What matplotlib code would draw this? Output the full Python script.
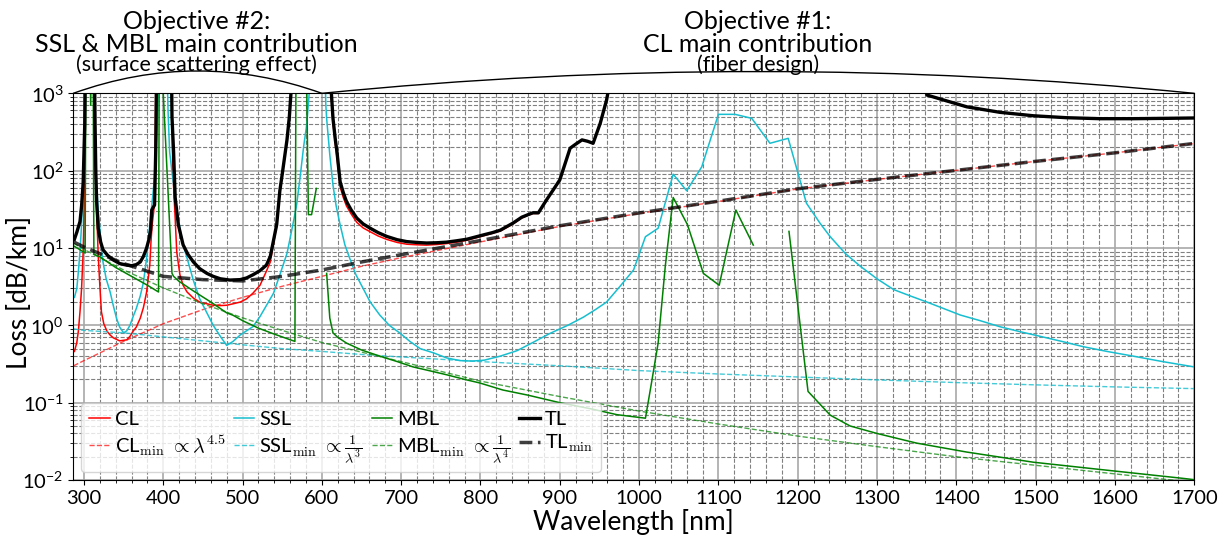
import numpy as np
import matplotlib.pyplot as plt
from matplotlib.ticker import MultipleLocator, LogLocator

plt.rcParams["font.family"] = ["Lato", "DejaVu Sans"]
plt.rcParams["mathtext.fontset"] = "cm"

OFF = 5000  # above the top of the plot
nan = np.nan

# total loss
tl_wl = [288, 291, 295, 297, 299, 301, 302, 313, 314, 315, 316, 318, 321, 324, 330, 337, 345, 354, 360,
         366, 371, 375, 379, 382, 384, 385.5, 389, 390.5, 392, 410, 411, 413, 415, 419, 425, 431, 438,
         446, 455, 463, 472, 484, 497, 505, 513, 522, 530, 535, 539, 543, 547, 550, 553, 556, 559, 561,
         562, 611, 612, 614, 617, 619, 623, 627, 631, 637, 644, 652, 661, 671, 682, 695, 707, 720, 732,
         745, 757, 770, 783, 795, 804, 815, 825, 841, 852, 860, 866, 873, 883, 892, 900, 913, 920, 928,
         935, 942, 951, 959, 962, 970, 1350, 1363, 1384, 1413, 1455, 1497, 1539, 1581, 1623, 1665, 1700]
tl_db = [13, 16, 22, 35, 70, 400, OFF, OFF, 400, 90, 40, 18, 12, 9.5, 8.0, 7.0, 6.3, 6.0, 5.9,
         6.1, 6.6, 7.8, 10, 13, 17, 31, 36, 180, OFF, OFF, 500, 176, 45, 20, 11, 8.3, 6.6,
         5.4, 4.7, 4.3, 4.0, 3.85, 3.9, 4.1, 4.5, 5.1, 6.0, 7.8, 12.5, 20, 55, 90, 150, 250, 500, 1000,
         OFF, OFF, 1000, 475, 250, 176, 72, 52, 40, 31, 24.4, 20.5, 18, 15.8, 14.1, 12.8, 12.1, 11.8, 11.6,
         11.7, 11.9, 12.4, 13.0, 14.0, 14.8, 15.8, 17.0, 21, 25, 27, 28.5, 28.5, 41.5, 57, 76, 195, 220, 250,
         240, 226, 410, 820, 1200, OFF, OFF, 950, 820, 670, 568, 513, 484, 470, 470, 475, 480]

# confinement loss
cl_wl = [288, 291, 293, 295, 297, 299, 300.5, 302, 313, 314.5, 316, 318, 320, 322, 325, 329, 333, 337,
         345, 354, 358, 362, 366, 371, 375, 379, 381, 383, 384.5, 386, 388, 389.5, 391, 410, 412, 415,
         417, 421, 425, 430, 438, 446, 455, 463, 472, 480, 488, 497, 505, 513, 522, 530, 535, 538, 541,
         543, 547, 550, 553, 556, 559, 561, 562, 611, 612, 614, 617, 619, 623, 627, 631, 637, 644, 652,
         661, 671, 682, 695, 707, 720, 732, 745, 757, 770, 783, 795, 804, 815, 825, 841, 852, 860, 866,
         873, 883, 892, 900, 913, 920, 928, 935, 942, 951, 959, 962, 970, 1350, 1363, 1384, 1413, 1455,
         1497, 1539, 1581, 1623, 1665, 1700]
cl_db = [0.46, 0.6, 0.85, 1.5, 3.0, 9, 40, OFF, OFF, 100, 30, 8, 3.3, 1.5, 1.05, 0.84, 0.75, 0.69,
         0.63, 0.65, 0.72, 0.84, 0.95, 1.24, 1.7, 2.7, 4.0, 6.0, 12, 20, 30, 60, OFF, OFF, 100, 24.5,
         8.9, 4.5, 3.3, 2.7, 2.25, 2.0, 1.9, 1.82, 1.8, 1.82, 1.9, 2.0, 2.2, 2.6, 3.3, 5.0, 6.6, 10, 15,
         19, 54, 89, 148, 248, 495, 990, OFF, OFF, 900, 420, 220, 150, 62, 45, 35, 27.5, 21.5, 18.2,
         16.2, 14.3, 12.9, 11.8, 11.2, 11.0, 10.9, 11.1, 11.4, 11.9, 12.6, 13.6, 14.4, 15.5, 16.6, 20.5, 24.5, 26.5, 28,
         28, 41, 56, 75, 193, 218, 248, 238, 224, 405, 815, 1200, OFF, OFF, 945, 815, 665, 565,
         511, 482, 469, 469, 474, 479]

# surface scattering loss
ssl_wl = [288, 291, 293, 295, 297, 299, 301, 302, 313, 314, 316, 318, 320, 322, 324, 328, 333, 337, 341,
          345, 350, 354, 358, 362, 366, 371, 375, 379, 383, 387, 390, 393, 395, 404, 406, 408, 413, 417,
          421, 425, 430, 438, 446, 455, 463, 472, 480, 488, 497, 505, 513, 522, 530, 539, 547, 556, 562,
          568, 573, 577, 581, 584, 586, 603, 605, 606, 610, 614, 618, 623, 629, 635, 643, 652, 661, 673,
          685, 698, 711, 724, 741, 757, 774, 790, 805, 825, 846, 866, 888, 910, 930, 945, 959, 976, 993,
          1008, 1024, 1043, 1060, 1079, 1100, 1121, 1142, 1165, 1188, 1211, 1228, 1241, 1260, 1279, 1300,
          1321, 1342, 1363, 1384, 1405, 1430, 1455, 1480, 1506, 1533, 1560, 1590, 1623, 1660, 1700]
ssl_db = [2.3, 3.0, 5, 9, 20, 65, 400, OFF, OFF, 300, 65, 30, 18, 10, 6.6, 4.0, 2.7, 1.8, 1.24,
          0.95, 0.80, 0.85, 1.0, 1.3, 1.65, 2.4, 3.6, 7.4, 20, 50, 107, 500, OFF, OFF, 600, 176, 65, 32,
          18, 11, 7.4, 3.8, 2.2, 1.45, 1.0, 0.72, 0.55, 0.62, 0.75, 0.85, 0.96, 1.3, 1.8, 2.6, 4.5, 8.5, 17,
          35, 90, 205, 400, 1000, OFF, OFF, 700, 475, 160, 65, 35, 20, 11, 7.4, 4.5, 3.0, 2.0, 1.36,
          1.0, 0.8, 0.62, 0.50, 0.44, 0.38, 0.35, 0.345, 0.355, 0.40, 0.47, 0.6, 0.79, 1.0, 1.28, 1.6, 2.0, 3.2, 5.2,
          14, 18, 90, 55, 112, 535, 535, 475, 226, 262, 38, 21, 14, 8.5, 5.8, 4.0,
          2.9, 2.4, 2.0, 1.65, 1.36, 1.15, 0.96, 0.83, 0.72, 0.62, 0.53, 0.46, 0.40, 0.34, 0.29]

# microbending loss
mbl_wl = [288, 295, 301.5, 302.5, 307.5, 308.5, 309.5, 311.5, 312.5, 320, 340, 360, 380, 394, 395, 399,
          400, 411, 413, 420, 440, 460, 480, 488, 500, 520, 540, 566, 567.5, 580, 581, 583, 587, 593, 600,
          606, 610, 614, 620, 631, 650, 673, 695, 715, 735, 757, 780, 799, 828, 860, 900, 940, 972, 1008,
          1016, 1024, 1033, 1043, 1061, 1081, 1101, 1122, 1144, 1165, 1189, 1213, 1241, 1266, 1300, 1350,
          1413, 1497, 1581, 1686, 1700]
mbl_db = [10.5, 9.5, 8.6, OFF, OFF, 700, OFF, OFF, 8.3, 7.7, 5.6, 4.3, 3.3, 2.7, OFF, OFF,
          1000, 4.7, 4.3, 3.7, 2.7, 2.0, 1.45, 1.35, 1.15, 0.92, 0.77, 0.62, OFF, OFF, 1000, 27, 27, 59, nan,
          4.7, 1.24, 0.80, 0.7, 0.59, 0.48, 0.40, 0.34, 0.29, 0.26, 0.23, 0.20, 0.18, 0.146, 0.125, 0.1, 0.083, 0.07, 0.063,
          0.19, 0.59, 5.8, 45, 20, 4.7, 3.3, 31, 10.9, nan, 16.4, 0.14, 0.069, 0.05, 0.040, 0.030,
          0.023, 0.017, 0.0137, 0.0105, 0.0101]

# minimum (scaling law) curves
min_wl = [287, 300, 350, 400, 450, 500, 550, 600, 650, 700, 800, 900, 1000, 1100, 1200, 1300, 1400, 1500, 1600, 1700]
cl_min = [0.3, 0.35, 0.62, 1.05, 1.6, 2.3, 3.2, 4.3, 5.8, 7.5, 12, 19, 28, 40, 58, 77, 101, 132, 170, 225]
ssl_min = [0.9, 0.86, 0.8, 0.71, 0.63, 0.56, 0.5, 0.46, 0.42, 0.39, 0.34, 0.30, 0.26, 0.235, 0.215, 0.197, 0.182, 0.17, 0.16, 0.152]
mbl_min = [11.5, 9.6, 5.2, 3.05, 1.9, 1.25, 0.86, 0.6, 0.45, 0.34, 0.19, 0.12, 0.078, 0.053, 0.037, 0.027, 0.02, 0.0155, 0.012, 0.0093]
tl_min = [12, 10.3, 6.3, 4.3, 3.9, 3.75, 4.3, 5.2, 6.6, 8.2, 12.5, 19.4, 28.4, 40.3, 58.3, 77.2, 101, 132, 170, 225]

fig = plt.figure(figsize=(12.27, 5.37), dpi=100, facecolor="w")
ax = fig.add_axes([0.0597, 0.1061, 0.9136, 0.7201])

ax.plot(cl_wl, cl_db, color="red", lw=1.1, label="CL")
ax.plot(min_wl, cl_min, color="red", ls="--", lw=1.0, alpha=0.7,
        label=r"CL$_{\mathrm{min}}$ $\propto \lambda^{4.5}$")
ax.plot(ssl_wl, ssl_db, color="#17becf", lw=1.1, label="SSL")
ax.plot(min_wl, ssl_min, color="#17becf", ls="--", lw=1.0, alpha=0.8,
        label=r"SSL$_{\mathrm{min}}$ $\propto \frac{1}{\lambda^{3}}$")
ax.plot(mbl_wl, mbl_db, color="green", lw=1.1, label="MBL")
ax.plot(min_wl, mbl_min, color="green", ls="--", lw=1.0, alpha=0.7,
        label=r"MBL$_{\mathrm{min}}$ $\propto \frac{1}{\lambda^{4}}$")
ax.plot(tl_wl, tl_db, color="black", lw=2.4, label="TL")
ax.plot(min_wl, tl_min, color="black", ls="--", lw=2.5, alpha=0.75, label=r"TL$_{\mathrm{min}}$")

ax.set_yscale("log")
ax.set_xlim(286.5, 1700)
ax.set_ylim(1e-2, 1e3)
ax.xaxis.set_major_locator(MultipleLocator(100))
ax.xaxis.set_minor_locator(MultipleLocator(20))
ax.yaxis.set_minor_locator(LogLocator(base=10, subs=np.arange(2, 10), numticks=20))
ax.grid(which="major", color="#a8a8a8", lw=1.2, ls="-")
ax.grid(which="minor", color="#808080", lw=0.8, ls="--")
ax.tick_params(which="major", labelsize=14.5)

ax.set_xlabel("Wavelength [nm]", fontsize=19)
ax.set_ylabel("Loss [dB/km]", fontsize=19)
ax.xaxis.set_label_coords(0.5, -0.075)
ax.yaxis.set_label_coords(-0.037, 0.485)

ax.legend(loc="lower left", ncol=4, fontsize=14.5, handlelength=1.0, handletextpad=0.25,
          columnspacing=0.45, labelspacing=0.25, borderaxespad=0.4, framealpha=0.8)

# brackets above the plot
arc = dict(arrowstyle="-", lw=1.0, color="black", shrinkA=0, shrinkB=0)
ax.annotate("", xy=(600, 1e3), xytext=(286.5, 1e3), annotation_clip=False,
            arrowprops=dict(arc, connectionstyle="arc3,rad=-0.18"))
ax.annotate("", xy=(1700, 1e3), xytext=(600, 1e3), annotation_clip=False,
            arrowprops=dict(arc, connectionstyle="arc3,rad=-0.05"))

trans = ax.get_xaxis_transform()
for x, head, sub in [(442, "Objective #2:\nSSL & MBL main contribution", "(surface scattering effect)"),
                     (1150, "Objective #1:\nCL main contribution", "(fiber design)")]:
    ax.text(x, 1.155, head, transform=trans, ha="center", va="center", fontsize=18, linespacing=1.0)
    ax.text(x, 1.073, sub, transform=trans, ha="center", va="center", fontsize=15.5)

fig.savefig("out.png", dpi=100, facecolor="w")
